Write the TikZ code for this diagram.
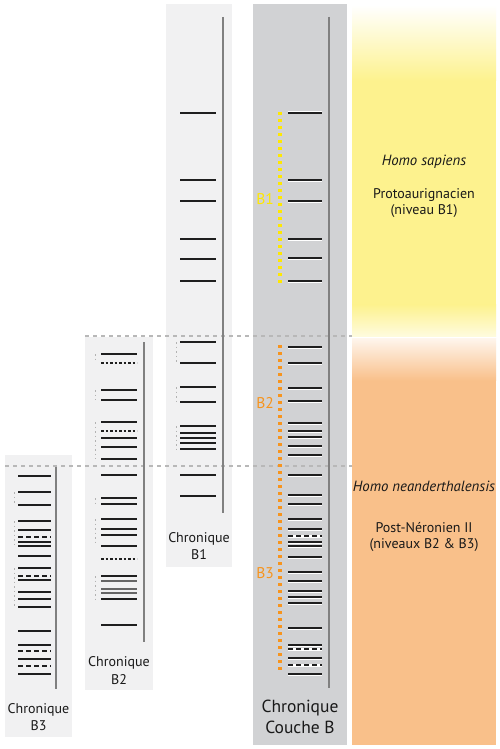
\documentclass[tikz,border=0pt]{standalone}
\usepackage{fontspec}
\setmainfont{PT Sans}
\begin{document}
\begin{tikzpicture}[x=1pt,y=-1pt,
  lvl/.style={draw=black!88, line width=1.5pt},
  thk/.style={draw=black!88, line width=2.6pt},
  dotl/.style={draw=black!88, line width=1.5pt, dash pattern=on 2.5pt off 2pt},
  dshl/.style={draw=black!88, line width=1.5pt, dash pattern=on 5pt off 3pt},
  grl/.style={draw=black!60, line width=1.3pt},
  halo/.style={preaction={draw=white, solid, line width=3pt}},
  mk/.style={draw=black!30, line width=0.9pt, dash pattern=on 1.5pt off 3pt},
  vbar/.style={draw=black!50, line width=2.6pt},
  sep/.style={draw=black!28, line width=1.8pt, dash pattern=on 4pt off 4pt},
  lab/.style={font=\fontsize{14}{17.5}\selectfont, align=center, text=black!90},
  rtxt/.style={font=\fontsize{14}{16}\selectfont, align=center, text=black!90},
  itxt/.style={font=\fontsize{14.8}{16}\selectfont\itshape, align=center, text=black!90}]
\definecolor{lpanel}{RGB}{241,241,242}
\definecolor{dpanel}{RGB}{209,210,212}
\definecolor{yband}{RGB}{253,242,142}
\definecolor{oband}{RGB}{249,192,138}
\definecolor{ydot}{RGB}{255,232,0}
\definecolor{odot}{RGB}{247,148,29}
\useasboundingbox (0,0) rectangle (500,749);
\fill[white] (0,0) rectangle (500,749);
% right bands
\fill[yband] (352,80) rectangle (496,305);
\shade[top color=white, bottom color=yband] (352,5) rectangle (496,80.5);
\shade[top color=yband, bottom color=white!70!yband] (352,304.5) rectangle (496,336);
\fill[oband] (352,380) rectangle (496,745);
\shade[top color=white!85!oband, bottom color=oband] (352,338) rectangle (496,380.5);
% panels
\fill[lpanel] (166,4) rectangle (232,567);
\fill[lpanel] (85,337) rectangle (153,690);
\fill[lpanel] (5,455) rectangle (72,737);
\fill[dpanel] (253,4) rectangle (347,745);
% separators
\draw[sep] (85,336) -- (352,336);
\draw[sep] (5,466) -- (352,466);
% vertical bars
\draw[vbar] (223,17) -- (223,513);
\draw[vbar] (144,342) -- (144,642);
\draw[vbar] (56,467) -- (56,689);
\draw[vbar] (329,17) -- (329,688);
% B1 chronique
\foreach \y in {113,180,201,239,281,342,363,387,402,426,433,438,443,449,475,496}
  \draw[lvl] (180,\y) -- (216,\y);
\draw[thk] (180,259) -- (216,259);
\draw[mk] (176,342) -- (176,363);
\draw[mk] (176,387) -- (176,402);
\draw[mk] (176,426) -- (176,449);
% B2 chronique
\foreach \y in {354,390,400,422,438,447,459,475,498,504,519,529,535,546,599}
  \draw[lvl] (101,\y) -- (137,\y);
\foreach \y in {363,431,559}
  \draw[dotl] (101,\y) -- (137,\y);
\foreach \y in {576,625}
  \draw[thk] (101,\y) -- (137,\y);
\foreach \y in {581,589,593}
  \draw[grl] (101,\y) -- (137,\y);
\draw[mk] (95,354) -- (95,363);
\draw[mk] (95,390) -- (95,400);
\draw[mk] (95,422) -- (95,459);
\draw[mk] (95,498) -- (95,504);
\draw[mk] (95,519) -- (95,546);
\draw[mk] (95,576) -- (95,599);
% B3 chronique
\foreach \y in {476,492,505,521,530,542,546,556,568,580,592,599,607,631,645,659,674}
  \draw[lvl] (18,\y) -- (51,\y);
\foreach \y in {537,576,651,666}
  \draw[dshl] (18,\y) -- (51,\y);
\draw[mk] (14,492) -- (14,505);
\draw[mk] (14,521) -- (14,546);
\draw[mk] (14,568) -- (14,607);
% Couche B
\foreach \y in {113,180,201,239,258,281,347,363,388,401,423,431,437,446,455,475,495,504,519,529,542,546,557,572,581,591,597,603,628,645,658,674}
  \draw[lvl, halo] (288,\y) -- (322,\y);
\foreach \y in {536,649,665}
  \draw[dshl, halo] (288,\y) -- (322,\y);
\draw[draw=ydot, line width=3.4pt, dash pattern=on 3.4pt off 3.6pt] (280,112) -- (280,284);
\draw[draw=odot, line width=3.4pt, dash pattern=on 3.4pt off 3.6pt] (280,345) -- (280,673);
\node[text=ydot, font=\fontsize{15.5}{17}\selectfont] (lb1) at (265,199) {B1};
\node[text=odot, font=\fontsize{15.5}{17}\selectfont] (lb2) at (265,403) {B2};
\node[text=odot, font=\fontsize{15.5}{17}\selectfont] (lb3) at (265,573) {B3};
% labels
\node[lab] (cb1) at (199,546) {Chronique\\B1};
\node[lab] (cb2) at (119,670.5) {Chronique\\B2};
\node[lab] (cb3) at (38.5,717) {Chronique\\B3};
\node[lab, font=\fontsize{17.5}{21}\selectfont] (cbc) at (300,716.5) {Chronique\\Couche B};
% right texts
\node[itxt] (hs) at (424,162) {Homo sapiens};
\node[rtxt] (pa) at (424,203.5) {Protoaurignacien\\(niveau B1)};
\node[itxt] (hn) at (424,486) {Homo neanderthalensis};
\node[rtxt] (pn) at (424,536.5) {Post-Néronien II\\(niveaux B2 \& B3)};
\end{tikzpicture}
\end{document}
